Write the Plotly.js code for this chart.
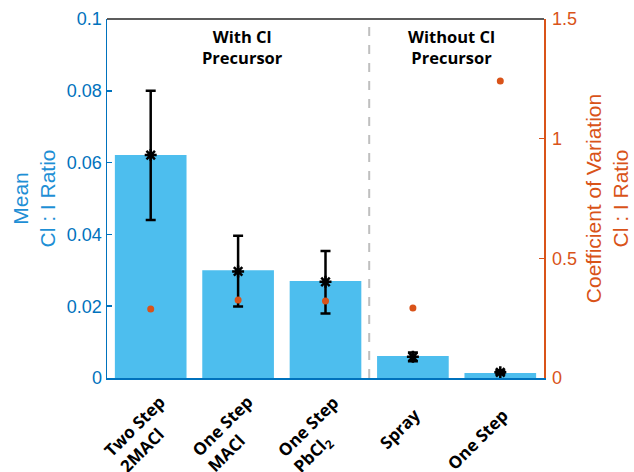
<!DOCTYPE html>
<html>
<head>
<meta charset="utf-8">
<script src="https://cdn.plot.ly/plotly-3.0.1.min.js"></script>
<style>html,body{margin:0;padding:0;background:#fff;}#chart{width:634px;height:472px;}</style>
</head>
<body>
<div id="chart"></div>
<script>
var categories = ["Two Step<br>2MACl", "One Step<br>MACl", "One Step<br>PbCl<sub>2</sub>", "Spray", "One Step"];
var catKeys = ["c0", "c1", "c2", "c3", "c4"];
var meanRatio = [0.0621, 0.0300, 0.0270, 0.0061, 0.0014];
var sampleMean = [0.0621, 0.0297, 0.0268, 0.0059, 0.0016];
var errUpper = [0.0179, 0.0099, 0.0086, 0.0012, 0.0005];
var errLower = [0.0181, 0.0098, 0.0088, 0.0012, 0.0005];
var coefVar = [0.288, 0.326, 0.322, 0.293, 1.241];
var leftTicks = [0, 0.02, 0.04, 0.06, 0.08, 0.1];
var leftTickText = ["0", "0.02", "0.04", "0.06", "0.08", "0.1"];
var rightTicks = [0, 0.5, 1, 1.5];
var rightTickText = ["0", "0.5", "1", "1.5"];

var blue = "#0072BD", orange = "#D95319", barColor = "#4DBEEE";
var fontFam = "Liberation Sans, Arial, sans-serif";
var boldFam = "Open Sans, sans-serif";

var traces = [
  {type: "bar", x: catKeys, y: meanRatio, marker: {color: barColor}, width: 0.82, hoverinfo: "none", yaxis: "y"},
  {type: "scatter", mode: "markers", x: catKeys, y: sampleMean,
   marker: {symbol: "asterisk-open", size: 10, color: "#000", line: {color: "#000", width: 2.5}},
   error_y: {type: "data", symmetric: false, array: errUpper, arrayminus: errLower, color: "#000", thickness: 2.5, width: 5},
   yaxis: "y"},
  {type: "scatter", mode: "markers", x: catKeys, y: coefVar,
   marker: {symbol: "circle", size: 7, color: orange}, yaxis: "y2"}
];

var annotations = [
  {xref: "x", yref: "paper", x: 1.045, y: 0.922, yanchor: "middle", showarrow: false, align: "center",
   text: "With Cl<br>Precursor", font: {family: boldFam, size: 16.5, color: "#000", weight: 700}},
  {xref: "x", yref: "paper", x: 3.447, y: 0.922, yanchor: "middle", showarrow: false, align: "center",
   text: "Without Cl<br>Precursor", font: {family: boldFam, size: 16.5, color: "#000", weight: 700}}
];
categories.forEach(function (label, i) {
  var nLines = label.split("<br>").length;
  annotations.push({
    xref: "x", yref: "paper", x: catKeys[i], y: 0,
    xanchor: "right", yanchor: "top", textangle: -45, align: "left",
    xshift: nLines > 1 ? 38 : 15, yshift: nLines > 1 ? -10 : -23,
    showarrow: false, text: label,
    font: {family: boldFam, size: 17, color: "#000", weight: 700}
  });
});

var layout = {
  width: 634, height: 472,
  margin: {l: 107, r: 90, t: 19, b: 94},
  paper_bgcolor: "#fff", plot_bgcolor: "#fff",
  showlegend: false,
  xaxis: {
    type: "category", range: [-0.5, 4.5],
    showline: true, linecolor: blue, linewidth: 1.5, ticks: "",
    showticklabels: false, showgrid: false, zeroline: false, fixedrange: true
  },
  yaxis: {
    range: [0, 0.1], tickvals: leftTicks, ticktext: leftTickText,
    showline: true, linecolor: blue, linewidth: 1.5,
    ticks: "inside", ticklen: 5, tickcolor: blue, tickwidth: 1.5,
    showgrid: false, zeroline: false,
    tickfont: {family: fontFam, size: 18, color: blue},
    title: {text: "Mean<br>Cl : I Ratio", font: {family: fontFam, size: 21, color: "#1E8FD5"}, standoff: 5}
  },
  yaxis2: {
    range: [0, 1.5], tickvals: rightTicks, ticktext: rightTickText,
    overlaying: "y", side: "right",
    showline: true, linecolor: orange, linewidth: 1.5,
    ticks: "inside", ticklen: 5, tickcolor: orange, tickwidth: 1.5,
    showgrid: false, zeroline: false, ticklabelstandoff: 3,
    tickfont: {family: fontFam, size: 18, color: orange},
    title: {text: "Coefficient of Variation<br>Cl : I Ratio", font: {family: fontFam, size: 21, color: orange}, standoff: 10}
  },
  shapes: [
    {type: "line", xref: "paper", yref: "paper", x0: 0, x1: 1, y0: 1, y1: 1, line: {color: "#262626", width: 1.5}},
    {type: "line", xref: "x", yref: "paper", x0: 2.5, x1: 2.5, y0: 0, y1: 0.99, line: {color: "#BFBFBF", width: 2, dash: "dash"}}
  ],
  annotations: annotations
};

Plotly.newPlot("chart", traces, layout, {displayModeBar: false, staticPlot: true});
</script>
</body>
</html>
